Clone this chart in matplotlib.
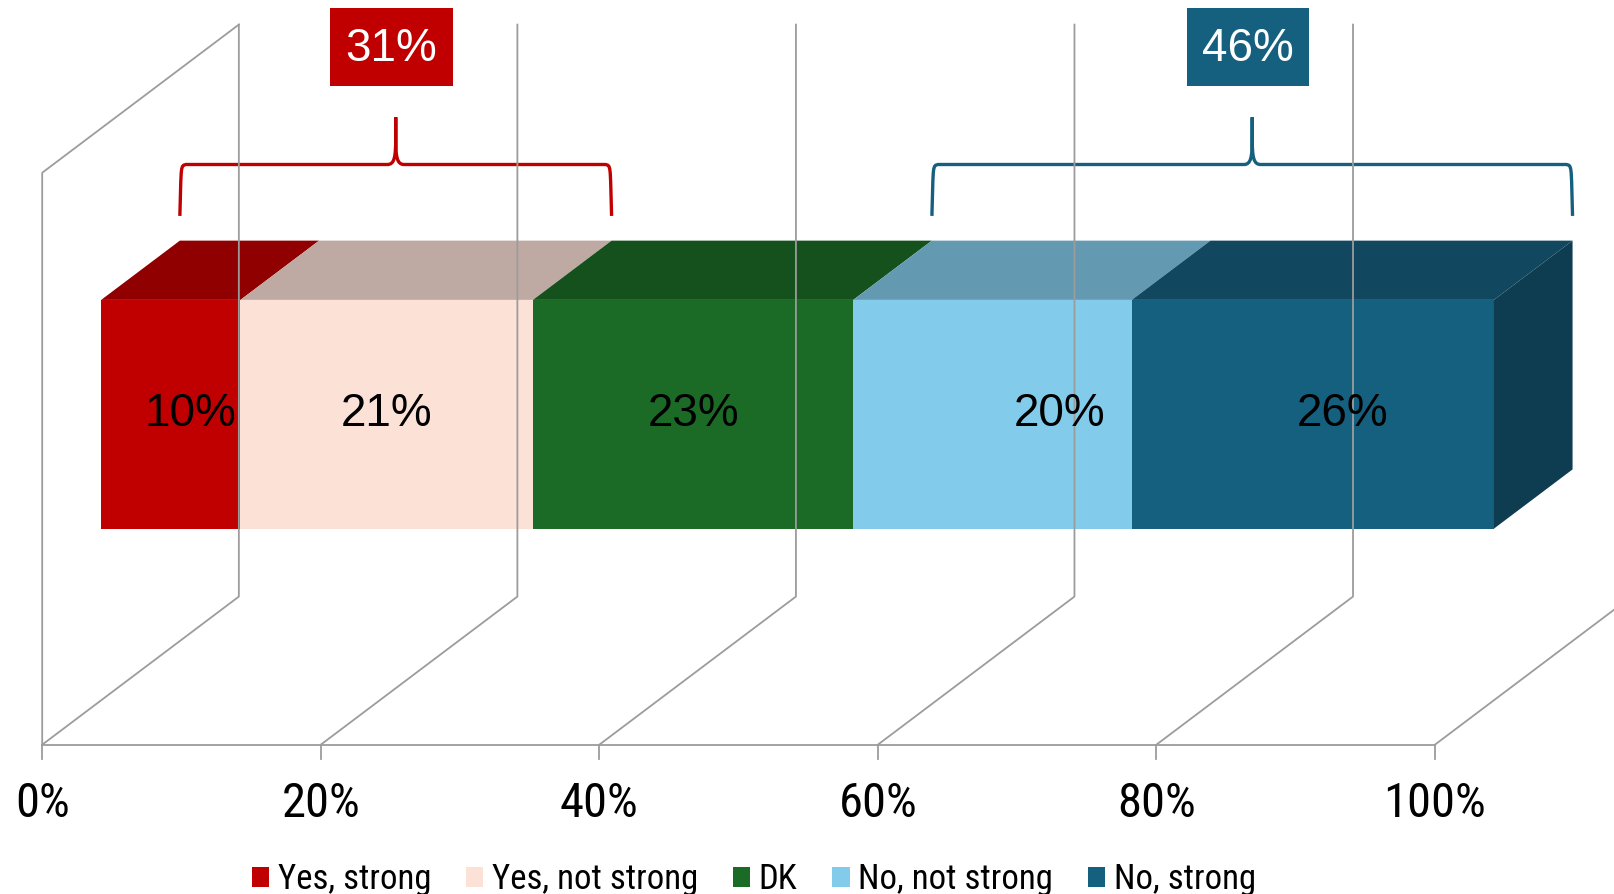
import numpy as np
import matplotlib.pyplot as plt
from matplotlib import font_manager
from matplotlib.patches import Polygon, Rectangle, PathPatch
from matplotlib.path import Path
from matplotlib.colors import to_rgb

# survey answers, stacked left to right
categories = ["Yes, strong", "Yes, not strong", "DK", "No, not strong", "No, strong"]
shares = [10, 21, 23, 20, 26]
colors = ["#C00000", "#FCE1D7", "#1B6B27", "#83CBEB", "#16607F"]

ticks = [0, 20, 40, 60, 80, 100]
tick_labels = ["0%", "20%", "40%", "60%", "80%", "100%"]

# bracketed totals: (first category, last category, colour)
groups = [(0, 1, "#C00000"), (3, 4, "#16607F")]

# nudges of the value labels along the bar (in % units)
label_shift = [1.43, 0.0, 0.0, 4.8, 2.1]

# oblique projection of the depth axis
DX, DY = 14.12, 0.259
GRID = "#9C9C9C"

installed = {f.name for f in font_manager.fontManager.ttflist}
narrow_pick = [n for n in ["Liberation Sans Narrow", "Arial Narrow", "Roboto Condensed",
                           "Archivo Narrow", "PT Sans Narrow", "IBM Plex Sans Condensed"]
               if n in installed]
NARROW = narrow_pick[:1] + ["DejaVu Sans"]
REGULAR = ["Liberation Sans", "DejaVu Sans"]


def proj(v, h, d):
    return (v + d * DX, h + d * DY)


def shade(c, k):
    r, g, b = to_rgb(c)
    return (r * k, g * k, b * k)


fig = plt.figure(figsize=(16.14, 8.94), dpi=100)
ax = fig.add_axes([0, 0, 1, 1])
ax.set_xlim(-3.03, 112.86)
ax.set_ylim(-0.261, 1.302)
ax.axis("off")

# walls and floor
ax.plot(*zip(proj(0, 0, 0), proj(0, 1, 0), proj(0, 1, 1)), color=GRID, lw=1.3)
ax.plot(*zip(proj(0, 0, 0), proj(100, 0, 0)), color=GRID, lw=1.3)
for t in ticks:
    xs, ys = zip(proj(t, 0, 0), proj(t, 0, 1), proj(t, 1, 1))
    ax.plot(xs, ys, color=GRID, lw=1.3)
    ax.plot([t, t], [0, -0.025], color=GRID, lw=1.3)
for t, lab in zip(ticks, tick_labels):
    ax.text(t, -0.104, lab, ha="center", va="center", fontsize=35,
            family=NARROW)

# the 3d bar
d0, d1 = 0.3, 0.7
h0, h1 = 0.3, 0.7
lefts = np.concatenate([[0], np.cumsum(shares)[:-1]])
handles = []
for i, (lab, val, c) in enumerate(zip(categories, shares, colors)):
    a, b = lefts[i], lefts[i] + val
    top = [proj(a, h1, d0), proj(b, h1, d0), proj(b, h1, d1), proj(a, h1, d1)]
    ax.add_patch(Polygon(top, closed=True, fc=shade(c, 0.755), ec="none"))
    front = [proj(a, h0, d0), proj(b, h0, d0), proj(b, h1, d0), proj(a, h1, d0)]
    p = Polygon(front, closed=True, fc=c, ec="none", label=lab)
    ax.add_patch(p)
    handles.append(p)
    cx, cy = proj((a + b) / 2 + label_shift[i], (h0 + h1) / 2, d0)
    ax.text(cx, cy, f"{val}%", ha="center", va="center", fontsize=33,
            family=REGULAR, color="black")

end = lefts[-1] + shares[-1]
side = [proj(end, h0, d0), proj(end, h0, d1), proj(end, h1, d1), proj(end, h1, d0)]
ax.add_patch(Polygon(side, closed=True, fc=shade(colors[-1], 0.64), ec="none"))

# curly brackets with totals above them
yb, ym, yt = 0.9245, 1.0144, 1.097
r = 0.6
for i0, i1, c in groups:
    x0 = lefts[i0] + d1 * DX
    x1 = lefts[i1] + shares[i1] + d1 * DX
    xc = (x0 + x1) / 2
    ymid = ym + 0.55 * (yt - ym)
    verts, codes = [], []
    for s, xe in ((1, x0), (-1, x1)):
        verts += [(xe, yb), (xe + s * 0.05, yb + 0.5 * (ym - yb)),
                  (xe + s * 0.1, ym), (xe + s * 0.1, ym), (xe + s * r, ym),
                  (xc - s * r, ym),
                  (xc - s * 0.1, ym), (xc, ym + 0.15 * (yt - ym)), (xc, ymid),
                  (xc, yt)]
        codes += [Path.MOVETO, Path.LINETO,
                  Path.CURVE4, Path.CURVE4, Path.CURVE4,
                  Path.LINETO,
                  Path.CURVE4, Path.CURVE4, Path.CURVE4,
                  Path.LINETO]
    ax.add_patch(PathPatch(Path(verts, codes), fc="none", ec=c, lw=2.4,
                           capstyle="butt", joinstyle="round"))
    total = sum(shares[i0:i1 + 1])
    bw, bh, by = 8.8, 0.135, 1.220
    ax.add_patch(Rectangle((xc - 0.3 - bw / 2, by - bh / 2), bw, bh, fc=c, ec="none"))
    ax.text(xc - 0.3, by - 0.004, f"{total}%", ha="center", va="center", fontsize=33,
            family=REGULAR, color="white")

ax.legend(handles=handles, loc="center", bbox_to_anchor=(0.467, 0.016),
          ncol=5, frameon=False, prop={"family": NARROW, "size": 25},
          handlelength=0.5, handleheight=0.5, handletextpad=0.25,
          columnspacing=1.0, borderaxespad=0)

fig.savefig("out.png", dpi=100)
